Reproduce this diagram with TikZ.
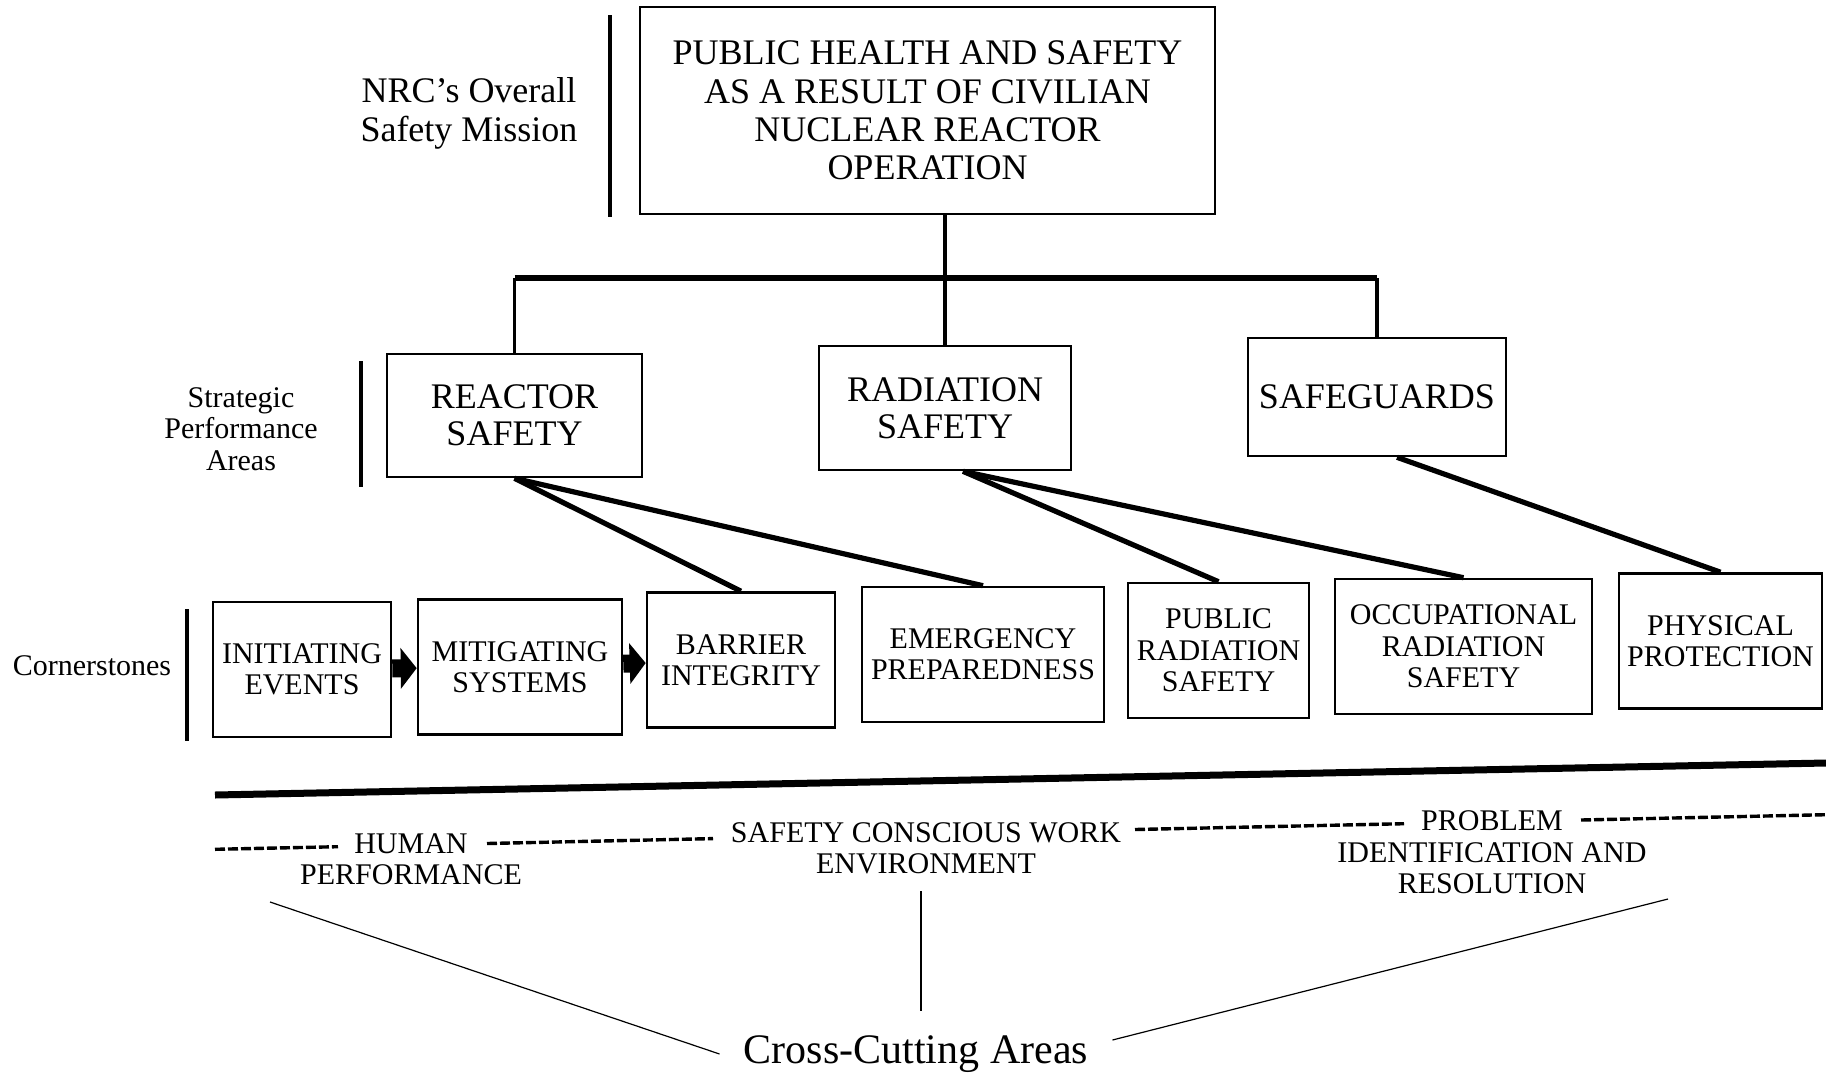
\documentclass[tikz,border=0pt]{standalone}
\usepackage{fontspec}
\setmainfont{Liberation Serif}
\usetikzlibrary{arrows.meta}

\begin{document}
\begin{tikzpicture}[x=0.5pt,y=-0.5pt,
  box/.style={shape=rectangle,draw=black,align=center,line width=1.3pt,inner sep=0pt},
  mainbox/.style={box,minimum width=287.5pt,minimum height=103.5pt,font=\fontsize{18}{19.2}\selectfont},
  areabox/.style={box,font=\fontsize{18}{18.6}\selectfont},
  stonebox/.style={box,minimum height=67.5pt,font=\fontsize{15}{15.7}\selectfont},
  sidelabel/.style={align=center,inner sep=0pt},
  crosslabel/.style={align=center,inner sep=0pt,font=\fontsize{15}{15.7}\selectfont},
  stem/.style={-,draw=black,line width=1.8pt},
  busline/.style={-,draw=black,line width=3.2pt},
  spoke/.style={-,draw=black,line width=2.6pt},
  fatarrow/.style={-{Triangle[length=8pt,width=20pt]},draw=black,line width=9pt},
  sidebar/.style={draw=black,line width=2pt},
  dashline/.style={-,draw=black,line width=1.7pt,dash pattern=on 5pt off 1.5pt},
  thinline/.style={-,draw=black,line width=0.6pt}]
\path[use as bounding box,fill=white] (0,0) rectangle (1826,1077);

\node[mainbox] (0) at (927.5,110.5) {PUBLIC HEALTH AND SAFETY\\AS A RESULT OF CIVILIAN\\NUCLEAR REACTOR\\OPERATION};
\node[areabox,minimum width=127.5pt,minimum height=61.5pt] (1) at (514.5,415.5) {REACTOR\\SAFETY};
\node[areabox,minimum width=126pt,minimum height=62pt] (2) at (945,408) {RADIATION\\SAFETY};
\node[areabox,minimum width=129pt,minimum height=59pt] (3) at (1377,397) {SAFEGUARDS};
\node[stonebox,minimum width=89pt] (4) at (302,669.5) {INITIATING\\EVENTS};
\node[stonebox,minimum width=102pt] (5) at (520,667) {MITIGATING\\SYSTEMS};
\node[stonebox,minimum width=94pt] (6) at (741,660) {BARRIER\\INTEGRITY};
\node[stonebox,minimum width=121pt] (7) at (983,654.5) {EMERGENCY\\PREPAREDNESS};
\node[stonebox,minimum width=90.5pt] (8) at (1218.5,650.5) {PUBLIC\\RADIATION\\SAFETY};
\node[stonebox,minimum width=128.5pt] (9) at (1463.5,646.5) {OCCUPATIONAL\\RADIATION\\SAFETY};
\node[stonebox,minimum width=101.5pt] (10) at (1720.5,641) {PHYSICAL\\PROTECTION};
\node[sidelabel,font=\fontsize{18}{19.2}\selectfont] (11) at (469,113.5) {NRC's Overall\\Safety Mission};
\node[sidelabel,font=\fontsize{15}{15.7}\selectfont] (12) at (241,429) {Strategic\\Performance\\Areas};
\node[sidelabel,font=\fontsize{15}{15.7}\selectfont] (13) at (92,666) {Cornerstones};
\node[crosslabel] (14) at (411,859.5) {HUMAN\\PERFORMANCE};
\node[crosslabel] (15) at (926,848.5) {SAFETY CONSCIOUS WORK\\ENVIRONMENT};
\node[crosslabel] (16) at (1492,852.5) {PROBLEM\\IDENTIFICATION AND\\RESOLUTION};
\node[align=center,inner sep=12pt,font=\fontsize{21}{24}\selectfont] (17) at (916,1054) {Cross-Cutting Areas};

\coordinate (bus) at (941,278);
\coordinate (d0) at (215,849.3);
\coordinate (d1) at (338,846.7);
\coordinate (d2) at (487,843.5);
\coordinate (d3) at (713,838.6);
\coordinate (d4) at (1135,829.5);
\coordinate (d5) at (1404,823.7);
\coordinate (d6) at (1581,820);
\coordinate (d7) at (1826,814.7);
\coordinate (c0) at (270,902);
\coordinate (c1) at (921,891);
\coordinate (c2) at (1668,899);

\draw[sidebar] (610,15) -- (610,217);
\draw[sidebar] (361,361) -- (361,487);
\draw[sidebar] (187,609) -- (187,741);
\draw[black,line width=3.5pt] (215,795) -- (1826,763);

\path [stem] (0.south -| 2.north) edge (2.north);
\path [busline] (1.north |- bus) edge (3.north |- bus);
\path [stem] (1.north |- bus) edge (1.north);
\path [stem] (3.north |- bus) edge (3.north);
\path [spoke] (1.south) edge (6.north);
\path [spoke] (1.south) edge (7.north);
\path [spoke] ([xshift=9pt]2.south) edge (8.north);
\path [spoke] ([xshift=9pt]2.south) edge (9.north);
\path [spoke] ([xshift=10pt]3.south) edge (10.north);
\path [fatarrow] (4) edge (5);
\path [fatarrow] (5) edge (6);
\path [dashline] (d0) edge (d1);
\path [dashline] (d2) edge (d3);
\path [dashline] (d4) edge (d5);
\path [dashline] (d6) edge (d7);
\path [thinline] (c0) edge (17.west);
\path [thinline] (c1) edge (c1 |- 17.north);
\path [thinline] (c2) edge ([yshift=7pt]17.east);
\end{tikzpicture}
\end{document}
